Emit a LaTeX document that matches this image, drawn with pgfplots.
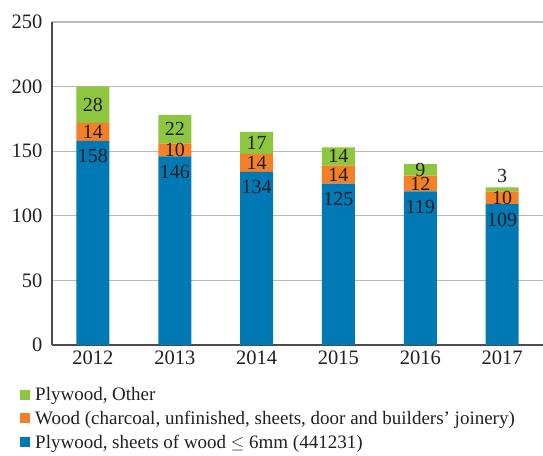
\documentclass[border=0pt]{standalone}
\usepackage{pgfplots}
\pgfplotsset{compat=1.18}
\usepackage{fontspec}
\setmainfont{Liberation Serif}

\definecolor{cblue}{RGB}{0,121,180}
\definecolor{corange}{RGB}{243,128,40}
\definecolor{cgreen}{RGB}{141,198,63}
\definecolor{ctext}{RGB}{35,31,32}

\pgfplotsset{
  sq/.style={legend image code/.code={\fill[##1,draw=none] (0pt,-5pt) rectangle (10pt,5pt);
    \path (0pt,0pt) -- (13pt,0pt);}},
}

\begin{document}
\begin{tikzpicture}[font=\fontsize{19}{22}\selectfont, text=ctext]
\begin{axis}[
  name=ax,
  scale only axis, width=491pt, height=323pt,
  ybar stacked, bar width=33pt,
  xmin=-0.5, xmax=5.5, ymin=0, ymax=250, enlargelimits=false,
  xtick={0,...,5}, xticklabels={2012,2013,2014,2015,2016,2017},
  ytick={0,50,...,250},
  major tick length=0pt,
  ymajorgrids, grid style={gray!55, line width=1.2pt},
  axis x line*=bottom, axis y line*=left,
  x axis line style={draw=black!70, line width=1.2pt},
  y axis line style={draw=black!70, line width=1.2pt},
  /pgf/number format/assume math mode=true,
  tick label style={font=\fontsize{20.5}{24}\selectfont, text=ctext},
  xticklabel style={yshift=-2pt},
  yticklabel style={xshift=-6pt},
  visualization depends on={rawy \as \rawy},
  nodes near coords={\pgfmathprintnumber{\rawy}},
  every node near coord/.append style={text=ctext, anchor=center,
    font=\fontsize{20}{23}\selectfont,
    yshift={(\rawy>50 ? 0.646*\rawy-15.5 : (\rawy<5 ? 0.646*\rawy+11 : 0))*1pt}},
  reverse legend,
  legend cell align=left,
  legend style={draw=none, fill=none, at={(axis description cs:0,0)}, anchor=north west,
    xshift=-35pt, yshift=-38pt, row sep=5pt,
    font=\fontsize{19}{22}\selectfont, nodes={text=ctext}},
]
\addplot+[sq, fill=cblue, draw=none]
  coordinates {(0,158) (1,146) (2,134) (3,125) (4,119) (5,109)};
\addplot+[sq, fill=corange, draw=none]
  coordinates {(0,14) (1,10) (2,14) (3,14) (4,12) (5,10)};
\addplot+[sq, fill=cgreen, draw=none]
  coordinates {(0,28) (1,22) (2,17) (3,14) (4,9) (5,3)};
\legend{{Plywood, sheets of wood $\leq$ 6mm (441231)},
  {Wood (charcoal, unfinished, sheets, door and builders’ joinery)},
  {Plywood, Other}}
\end{axis}
\pgfresetboundingbox
\path ([xshift=-52pt,yshift=-110pt]ax.south west) rectangle ([yshift=22pt]ax.north east);
\end{tikzpicture}
\end{document}
